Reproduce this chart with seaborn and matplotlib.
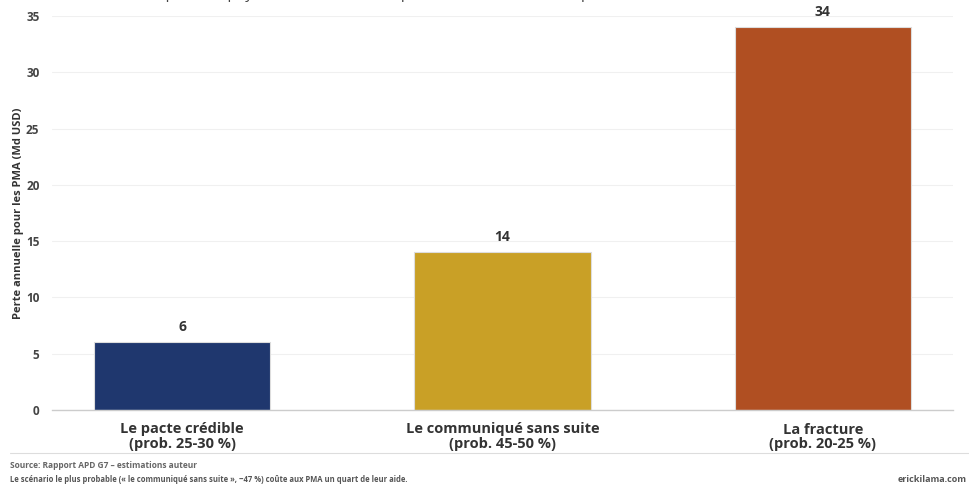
import pandas as pd
import matplotlib
matplotlib.use("Agg")
import matplotlib.pyplot as plt
import seaborn as sns

# données
scenarios = ["Le pacte crédible\n(prob. 25-30 %)",
             "Le communiqué sans suite\n(prob. 45-50 %)",
             "La fracture\n(prob. 20-25 %)"]
pertes = [6, 14, 34]
couleurs = ["#1f376e", "#c9a026", "#b04f22"]
yticks = [0, 5, 10, 15, 20, 25, 30, 35]

sns.set_theme(style="white")
plt.rcParams['font.family'] = ['Open Sans', 'DejaVu Sans']

df = pd.DataFrame({"scenario": scenarios, "perte": pertes})

fig = plt.figure(figsize=(9.7, 4.84), dpi=100)
ax = fig.add_axes([52 / 970, 1 - 410 / 484, (953 - 52) / 970, 394 / 484])

sns.barplot(data=df, x="scenario", y="perte", hue="scenario",
            palette=couleurs, width=0.55, legend=False, saturation=1,
            edgecolor="#dddddd", linewidth=0.8, ax=ax)

for i, v in enumerate(pertes):
    ax.text(i, v + 0.75, str(v), ha="center", va="bottom",
            fontsize=10, fontweight="bold", color="#333333")

ax.set_ylim(0, 35)
ax.set_xlim(-0.406, 2.406)
ax.set_yticks(yticks)
ax.set_yticklabels([str(t) for t in yticks], fontsize=8.5,
                   fontweight="bold", color="#444444")
ax.tick_params(axis="x", labelsize=10.5, colors="#333333", pad=9, length=0)
ax.tick_params(axis="y", length=0, pad=9)
for lab in ax.get_xticklabels():
    lab.set_fontweight("bold")
    lab.set_linespacing(1.05)
ax.set_xlabel("")
ax.set_ylabel("Perte annuelle pour les PMA (Md USD)", fontsize=8,
              fontweight="bold", color="#333333")
ax.yaxis.set_label_coords(-(52 - 24) / 901, 0.5)
ax.grid(True, axis="y", color="#f0f0f0", linewidth=0.8)
ax.set_axisbelow(True)
for s in ["top", "right", "left"]:
    ax.spines[s].set_visible(False)
ax.spines["bottom"].set_color("#cccccc")
ax.spines["bottom"].set_linewidth(1.0)

# sous-titre coupé en haut
fig.text(128 / 970, 1.012, "Coût pour les pays les moins avancés, par scénario, en Md USD par an",
         fontsize=11, color="#444444", va="center")

# séparateur et notes
fig.add_artist(plt.Line2D([10 / 970, 1], [1 - 453 / 484] * 2,
                          color="#dddddd", linewidth=0.8))
fig.text(10 / 970, 1 - 466 / 484, "Source: Rapport APD G7 – estimations auteur",
         fontsize=6, fontweight="bold", color="#666666", va="center")
fig.text(10 / 970, 1 - 479 / 484,
         "Le scénario le plus probable (« le communiqué sans suite », ~47 %) coûte aux PMA un quart de leur aide.",
         fontsize=5.5, fontweight="bold", color="#555555", va="center")
fig.text(967 / 970, 1 - 480 / 484, "erickilama.com", fontsize=6.5,
         fontweight="bold", color="#555555", va="center", ha="right")

fig.savefig("out.png", dpi=100, facecolor="white")
